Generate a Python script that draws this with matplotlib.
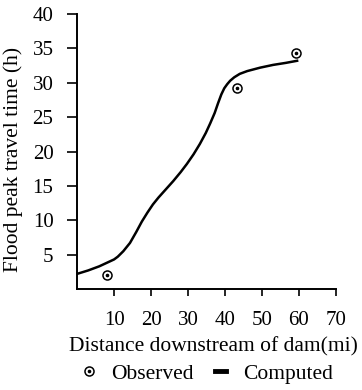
import matplotlib
matplotlib.use('Agg')
import matplotlib.pyplot as plt
from matplotlib.lines import Line2D
from matplotlib.legend_handler import HandlerTuple

plt.rcParams['font.family'] = ['Liberation Serif', 'DejaVu Serif']

# observed points (distance mi, time h)
obs_x = [8.2, 43.2, 59.3]
obs_y = [2.1, 29.2, 34.3]

# computed curve
comp_x = [0, 3, 6, 8, 10, 11, 12.5, 14.3, 16, 17.5, 19, 20.5, 22, 23.5, 26,
          28, 29.7, 31.5, 33.2, 34.8, 36, 37.2, 38.1, 39, 39.8, 40.6, 41.4,
          42.5, 44, 46, 49.5, 53, 56.5, 59.5]
comp_y = [2.2, 2.7, 3.3, 3.8, 4.3, 4.7, 5.5, 6.7, 8.3, 9.8, 11.1, 12.3, 13.3,
          14.2, 15.7, 17.0, 18.2, 19.6, 21.1, 22.7, 24.1, 25.6, 27.0, 28.3,
          29.2, 29.8, 30.3, 30.8, 31.3, 31.7, 32.2, 32.6, 32.9, 33.2]

xticks = [10, 20, 30, 40, 50, 60, 70]
yticks = [5, 10, 15, 20, 25, 30, 35, 40]

fig = plt.figure(figsize=(3.62, 3.90), dpi=100)
ax = fig.add_axes([0.213, 0.259, 0.715, 0.705])

ax.plot(comp_x, comp_y, color='black', lw=1.8)
ax.plot(obs_x, obs_y, 'o', mfc='none', mec='black', ms=6.5, mew=1.1)
ax.plot(obs_x, obs_y, 'o', color='black', ms=1.6)

ax.set_xlim(0, 70)
ax.set_ylim(0, 40)
ax.set_xticks(xticks)
ax.set_yticks(yticks)
ax.tick_params(axis='x', length=5, width=1.2, pad=11, labelsize=15)
ax.tick_params(axis='y', length=7, width=1.2, pad=10, labelsize=15)
for s in ['top', 'right']:
    ax.spines[s].set_visible(False)
for s in ['left', 'bottom']:
    ax.spines[s].set_linewidth(1.4)

ax.set_xlabel('Distance downstream of dam(mi)', fontsize=15.5)
ax.xaxis.set_label_coords(0.527, -0.175)
ax.set_ylabel('Flood peak travel time (h)', fontsize=15.5)
ax.yaxis.set_label_coords(-0.21, 0.47)

h_obs = (Line2D([], [], ls='none', marker='o', mfc='none', mec='black', ms=6.5, mew=1.1),
         Line2D([], [], ls='none', marker='o', color='black', ms=1.6))
h_comp = Line2D([], [], color='black', lw=3.5)
fig.legend([h_obs, h_comp], ['Observed', 'Computed'],
           handler_map={tuple: HandlerTuple(ndivide=1)},
           loc='center', bbox_to_anchor=(0.575, 0.042), ncol=2, frameon=False,
           fontsize=15.5, handlelength=0.5, handletextpad=0.8, columnspacing=1.0)

fig.savefig('out.png', dpi=100)
